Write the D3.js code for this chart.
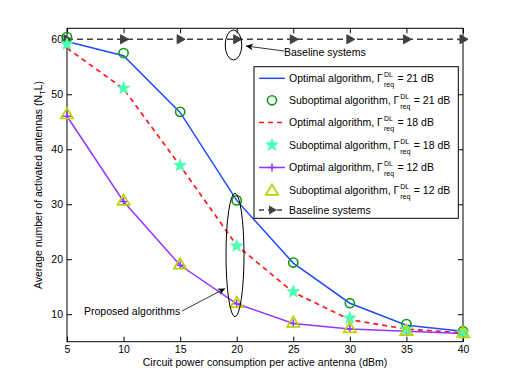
<!DOCTYPE html>
<html><head><meta charset="utf-8">
<script src="https://cdn.jsdelivr.net/npm/d3@7"></script>
<style>body{margin:0;background:#fff}svg{display:block}text{font-family:"Liberation Sans",Arial,sans-serif;fill:#000}</style>
</head><body><svg id="c" width="512" height="384"></svg>
<script>
const xVals = [5,10,15,20,25,30,35,40];
const opt21 = [59.6,57.0,46.7,30.7,19.3,12.0,8.0,6.9];
const sub21 = [60.4,57.5,46.8,30.7,19.4,12.0,8.2,6.9];
const opt18 = [58.4,51.0,37.0,22.5,14.0,9.0,7.3,6.6];
const sub18 = [59.1,51.1,37.05,22.4,14.1,9.3,7.2,6.6];
const opt12 = [46.0,30.5,18.9,11.9,8.3,7.3,6.9,6.5];
const sub12 = [46.3,30.6,19.0,12.0,8.4,7.4,6.9,6.5];
const baseline = [60,60,60,60,60,60,60,60];
const xTicks = [5,10,15,20,25,30,35,40];
const yTicks = [10,20,30,40,50,60];
const legendLabels = [
 {t:"Optimal algorithm, Γ", v:"= 21 dB"},
 {t:"Suboptimal algorithm, Γ", v:"= 21 dB"},
 {t:"Optimal algorithm, Γ", v:"= 18 dB"},
 {t:"Suboptimal algorithm, Γ", v:"= 18 dB"},
 {t:"Optimal algorithm, Γ", v:"= 12 dB"},
 {t:"Suboptimal algorithm, Γ", v:"= 12 dB"},
 {t:"Baseline systems", v:null}
];

const FS = 10.5;
const svg = d3.select("#c");
const L=67,R=463,T=28.3,B=341.7;
const x = d3.scaleLinear().domain([5,40]).range([L,R]);
const y = d3.scaleLinear().domain([5,62]).range([B,T]);

const C = {blue:"#1f4cff", green:"#119911", red:"#ff1a1a", star:"#4dffb3", purple:"#9933ff", tri:"#b5d400", base:"#404040"};

const g = svg.append("g");
g.append("rect").attr("x",L).attr("y",T).attr("width",R-L).attr("height",B-T).attr("fill","#fff").attr("stroke","none");
const xb = d3.axisBottom(x).tickValues(xTicks).tickSizeInner(-5).tickSizeOuter(0).tickPadding(4);
const yl = d3.axisLeft(y).tickValues(yTicks).tickSizeInner(-5).tickSizeOuter(0).tickPadding(4);
const xt = d3.axisTop(x).tickValues(xTicks).tickSizeInner(-5).tickSizeOuter(0).tickFormat("");
const yr = d3.axisRight(y).tickValues(yTicks).tickSizeInner(-5).tickSizeOuter(0).tickFormat("");
function styleAx(s){s.select(".domain").remove();s.selectAll("line").attr("stroke","#000");s.selectAll("text").attr("font-size",FS).attr("font-family","Liberation Sans, Arial, sans-serif").attr("fill","#000");}
g.append("g").attr("transform",`translate(0,${B})`).call(xb).call(styleAx);
g.append("g").attr("transform",`translate(${L},0)`).call(yl).call(styleAx);
g.append("g").attr("transform",`translate(0,${T})`).call(xt).call(styleAx);
g.append("g").attr("transform",`translate(${R},0)`).call(yr).call(styleAx);
g.append("rect").attr("x",L).attr("y",T).attr("width",R-L).attr("height",B-T).attr("fill","none").attr("stroke","#000").attr("stroke-width",1);

svg.append("text").attr("x",(L+R)/2).attr("y",366).attr("text-anchor","middle").attr("font-size",FS).text("Circuit power consumption per active antenna (dBm)");
const yt = svg.append("text").attr("transform",`translate(42,${(T+B)/2}) rotate(-90)`).attr("text-anchor","middle").attr("font-size",FS);
yt.append("tspan").text("Average number of activated antennas (N");
yt.append("tspan").attr("font-size",7.5).attr("dy",3).text("T");
yt.append("tspan").attr("dy",-3).text("L)");

const line = d3.line().x((d,i)=>x(xVals[i])).y(d=>y(d));
const plot = svg.append("g");

function star(cx,cy,r){const pts=[];for(let k=0;k<10;k++){const a=-Math.PI/2+k*Math.PI/5;const rr=k%2?r*0.42:r;pts.push([cx+rr*Math.cos(a),cy+rr*Math.sin(a)]);}return "M"+pts.map(p=>p.join(",")).join("L")+"Z";}
function tri(cx,cy,r){return `M${cx},${cy-r}L${cx+r*0.95},${cy+r*0.6}L${cx-r*0.95},${cy+r*0.6}Z`;}
function triR(cx,cy,r){return `M${cx+r},${cy}L${cx-r*0.6},${cy-r*0.9}L${cx-r*0.6},${cy+r*0.9}Z`;}
function plus(cx,cy,r){return `M${cx-r},${cy}L${cx+r},${cy}M${cx},${cy-r}L${cx},${cy+r}`;}

plot.append("path").attr("d",line(baseline)).attr("fill","none").attr("stroke",C.base).attr("stroke-width",1.5).attr("stroke-dasharray","6,4");
plot.selectAll(".bm").data(baseline).enter().append("path").attr("d",(d,i)=>triR(x(xVals[i]),y(d),5)).attr("fill",C.base).attr("stroke",C.base).attr("stroke-width",1);

plot.append("path").attr("d",line(opt21)).attr("fill","none").attr("stroke",C.blue).attr("stroke-width",1.5);
plot.append("path").attr("d",line(opt18)).attr("fill","none").attr("stroke",C.red).attr("stroke-width",1.7).attr("stroke-dasharray","5,4");
plot.append("path").attr("d",line(opt12)).attr("fill","none").attr("stroke",C.purple).attr("stroke-width",1.5);
plot.selectAll(".pm").data(opt12).enter().append("path").attr("d",(d,i)=>plus(x(xVals[i]),y(d),4)).attr("stroke",C.purple).attr("stroke-width",1.5);
plot.selectAll(".cm").data(sub21).enter().append("circle").attr("cx",(d,i)=>x(xVals[i])).attr("cy",d=>y(d)).attr("r",4.6).attr("fill","none").attr("stroke",C.green).attr("stroke-width",1.6);
plot.selectAll(".sm").data(sub18).enter().append("path").attr("d",(d,i)=>star(x(xVals[i]),y(d),6.5)).attr("fill",C.star).attr("stroke",C.star).attr("stroke-width",0.8);
plot.selectAll(".tm").data(sub12).enter().append("path").attr("d",(d,i)=>tri(x(xVals[i]),y(d),6.5)).attr("fill","none").attr("stroke",C.tri).attr("stroke-width",1.7);

const ann = svg.append("g");
ann.append("ellipse").attr("cx",233.5).attr("cy",45).attr("rx",8.3).attr("ry",15).attr("fill","none").attr("stroke","#000").attr("stroke-width",1);
ann.append("ellipse").attr("cx",235).attr("cy",255).attr("rx",9).attr("ry",61.7).attr("fill","none").attr("stroke","#000").attr("stroke-width",1);
svg.append("defs").append("marker").attr("id","ah").attr("viewBox","0 0 10 10").attr("refX",10).attr("refY",5).attr("markerWidth",9).attr("markerHeight",7).attr("markerUnits","userSpaceOnUse").attr("orient","auto").append("path").attr("d","M0,0L10,5L0,10L3,5Z").attr("fill","#000");
ann.append("line").attr("x1",284).attr("y1",51).attr("x2",246).attr("y2",46).attr("stroke","#000").attr("stroke-width",0.8).attr("marker-end","url(#ah)");
ann.append("text").attr("x",284).attr("y",56).attr("font-size",FS).text("Baseline systems");
ann.append("line").attr("x1",182).attr("y1",311).attr("x2",225).attr("y2",288.5).attr("stroke","#000").attr("stroke-width",0.8).attr("marker-end","url(#ah)");
ann.append("text").attr("x",84).attr("y",315).attr("font-size",FS).text("Proposed algorithms");

const lg = svg.append("g");
lg.append("rect").attr("x",254).attr("y",66.7).attr("width",204.3).attr("height",151.6).attr("fill","#fff").attr("stroke","#000").attr("stroke-width",1);
const ly = [78.3,100.3,122.5,145,167.5,190,210];
const sx0=259, sx1=285, mx=272;
legendLabels.forEach((lab,i)=>{
  const yy = ly[i];
  if(i===0) lg.append("line").attr("x1",sx0).attr("x2",sx1).attr("y1",yy).attr("y2",yy).attr("stroke",C.blue).attr("stroke-width",1.5);
  if(i===1) lg.append("circle").attr("cx",mx).attr("cy",yy).attr("r",4.6).attr("fill","none").attr("stroke",C.green).attr("stroke-width",1.6);
  if(i===2) lg.append("line").attr("x1",sx0).attr("x2",sx1).attr("y1",yy).attr("y2",yy).attr("stroke",C.red).attr("stroke-width",1.7).attr("stroke-dasharray","5,4");
  if(i===3) lg.append("path").attr("d",star(mx,yy,6.5)).attr("fill",C.star).attr("stroke",C.star).attr("stroke-width",0.8);
  if(i===4){lg.append("line").attr("x1",sx0).attr("x2",sx1).attr("y1",yy).attr("y2",yy).attr("stroke",C.purple).attr("stroke-width",1.5);lg.append("path").attr("d",plus(mx,yy,4)).attr("stroke",C.purple).attr("stroke-width",1.5);}
  if(i===5) lg.append("path").attr("d",tri(mx,yy+1,6.5)).attr("fill","none").attr("stroke",C.tri).attr("stroke-width",1.7);
  if(i===6){lg.append("line").attr("x1",sx0).attr("x2",sx1).attr("y1",yy).attr("y2",yy).attr("stroke",C.base).attr("stroke-width",1.5).attr("stroke-dasharray","5,4");lg.append("path").attr("d",triR(mx,yy,5)).attr("fill",C.base);}
  const t = lg.append("text").attr("x",289).attr("y",yy+3.7).attr("font-size",FS).text(lab.t);
  if(lab.v){
    const w = t.node().getComputedTextLength();
    const sx = 289+w+1;
    lg.append("text").attr("x",sx).attr("y",yy-1.5).attr("font-size",7).text("DL");
    lg.append("text").attr("x",sx).attr("y",yy+8.7).attr("font-size",7).text("req");
    lg.append("text").attr("x",sx+13.5).attr("y",yy+3.7).attr("font-size",FS).text(lab.v);
  }
});
</script></body></html>
